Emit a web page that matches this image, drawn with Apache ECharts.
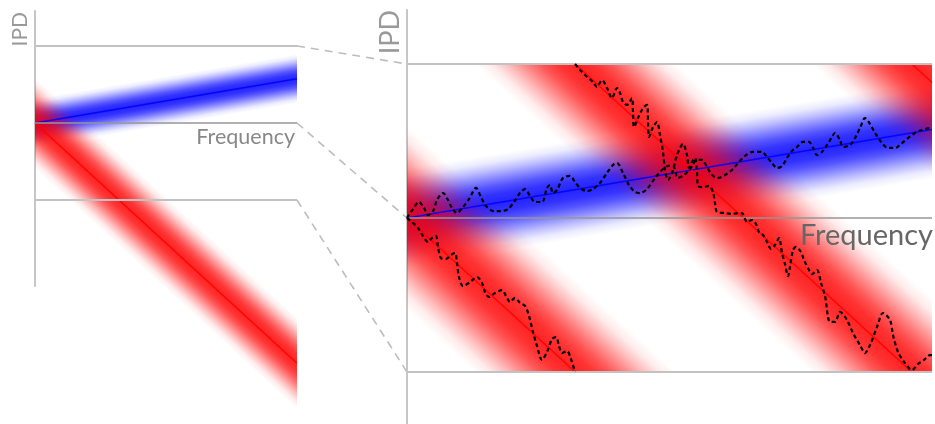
<!DOCTYPE html>
<html><head><meta charset="utf-8">
<script src="https://cdn.jsdelivr.net/npm/echarts@6/dist/echarts.min.js"></script>
<style>html,body{margin:0;padding:0;background:#fff}#c{width:935px;height:424px}</style>
</head><body><div id="c"></div>
<script>
// ---------- DATA (frequency in Hz, IPD in units of π) ----------
const freqRange = [0, 1050];
const ipdLines = [1, 0, -1];
const blueModel = [[0, 0], [1050, 0.575]];
const redModel = [[0, 0], [1050, -3.12]];
const blueHalfWidth = 0.32;
const redHalfWidth = 0.6;
const redWrapOffsets = [0, 2, 4];
const blueEstimate = [[0,0],[12,0.058],[24,0.104],[34,0.065],[42,0.019],[52,0.045],[60,0.117],[72,0.162],[82,0.117],[90,0.065],[100,0.032],[112,0.071],[124,0.123],[138,0.195],[148,0.136],[158,0.078],[174,0.045],[188,0.045],[202,0.058],[214,0.104],[226,0.162],[236,0.188],[246,0.143],[256,0.104],[270,0.104],[280,0.195],[286,0.214],[292,0.162],[300,0.182],[312,0.26],[326,0.273],[336,0.234],[346,0.195],[360,0.175],[372,0.188],[386,0.227],[400,0.292],[412,0.344],[420,0.357],[432,0.292],[444,0.214],[456,0.169],[466,0.162],[480,0.188],[496,0.26],[510,0.312],[522,0.338],[532,0.338],[542,0.26],[554,0.279],[566,0.318],[580,0.377],[590,0.377],[600,0.331],[610,0.279],[622,0.26],[636,0.279],[650,0.312],[662,0.357],[676,0.403],[692,0.429],[710,0.429],[720,0.396],[730,0.357],[740,0.325],[750,0.338],[760,0.39],[770,0.435],[780,0.461],[792,0.494],[804,0.494],[812,0.455],[820,0.409],[830,0.429],[840,0.474],[850,0.526],[856,0.552],[866,0.506],[872,0.461],[886,0.474],[896,0.519],[906,0.584],[916,0.649],[926,0.61],[936,0.552],[950,0.487],[962,0.455],[976,0.455],[990,0.487],[1002,0.519],[1016,0.552],[1030,0.571],[1046,0.584],[1050,0.584]];
const redEstimateA = [[0,0],[10,-0.026],[22,-0.065],[32,-0.117],[42,-0.156],[50,-0.13],[58,-0.117],[62,-0.188],[68,-0.26],[78,-0.266],[88,-0.24],[96,-0.227],[100,-0.292],[104,-0.383],[112,-0.442],[126,-0.416],[140,-0.383],[150,-0.422],[156,-0.481],[164,-0.513],[176,-0.487],[190,-0.468],[198,-0.506],[206,-0.545],[216,-0.519],[226,-0.552],[236,-0.571],[244,-0.636],[252,-0.74],[260,-0.831],[270,-0.922],[280,-0.87],[290,-0.786],[298,-0.773],[304,-0.831],[310,-0.877],[320,-0.864],[328,-0.916],[336,-1.0]];
const redEstimateB = [[336,1.0],[346,0.961],[356,0.929],[372,0.883],[380,0.851],[390,0.896],[400,0.844],[410,0.779],[420,0.844],[426,0.812],[432,0.753],[440,0.734],[450,0.779],[452,0.688],[454,0.591],[462,0.649],[472,0.714],[480,0.734],[482,0.623],[484,0.526],[492,0.591],[500,0.623],[506,0.539],[512,0.429],[516,0.312],[522,0.247],[532,0.312],[540,0.409],[552,0.481],[560,0.409],[564,0.325],[570,0.364],[576,0.39],[580,0.299],[582,0.208],[592,0.201],[604,0.208],[612,0.169],[616,0.097],[620,0.039],[636,0.032],[650,0.026],[662,0.032],[670,0.032],[680,-0.026],[690,-0.013],[698,-0.039],[704,-0.091],[712,-0.11],[720,-0.156],[728,-0.201],[736,-0.175],[744,-0.13],[750,-0.227],[756,-0.299],[762,-0.377],[766,-0.318],[772,-0.208],[778,-0.188],[788,-0.221],[794,-0.273],[802,-0.325],[810,-0.364],[820,-0.338],[828,-0.422],[836,-0.506],[846,-0.675],[856,-0.675],[866,-0.61],[880,-0.662],[892,-0.747],[906,-0.825],[916,-0.877],[926,-0.825],[940,-0.708],[952,-0.617],[966,-0.662],[972,-0.76],[982,-0.87],[996,-0.942],[1010,-0.987],[1022,-0.948],[1034,-0.922],[1046,-0.89],[1050,-0.89]];
const axisTitle = 'IPD';
const freqTitle = 'Frequency';

// ---------- helpers ----------
function clipHalf(pts, keep, yEdge) {
  const out = [];
  for (let i = 0; i < pts.length; i++) {
    const a = pts[i], b = pts[(i + 1) % pts.length];
    const ia = keep(a), ib = keep(b);
    if (ia) out.push(a);
    if (ia !== ib) {
      const t = (yEdge - a[1]) / (b[1] - a[1]);
      out.push([a[0] + t * (b[0] - a[0]), yEdge]);
    }
  }
  return out;
}
function rgba(c, a) { return 'rgba(' + c + ',' + a + ')'; }
function bandStops(c) {
  const prof = [[0,0],[0.08,0.08],[0.16,0.25],[0.25,0.48],[0.33,0.67],[0.41,0.8],[0.5,0.86],[0.59,0.8],[0.67,0.67],[0.75,0.48],[0.84,0.25],[0.92,0.08],[1,0]];
  return prof.map(p => ({offset: p[0], color: rgba(c, p[1])}));
}
function bandRenderer(model, half, c, clip, mode) {
  return function (params, api) {
    const off = api.value(0);
    const p0 = api.coord([model[0][0], model[0][1] + off]);
    const p1 = api.coord([model[1][0], model[1][1] + off]);
    const pt = api.coord([model[0][0], model[0][1] + off + half]);
    const h = p0[1] - pt[1];
    const top = api.coord([model[0][0], ipdLines[0]])[1];
    const bot = api.coord([model[0][0], ipdLines[2]])[1];
    if (mode === 'fill') {
      let poly = [[p0[0], p0[1] - h], [p1[0], p1[1] - h], [p1[0], p1[1] + h], [p0[0], p0[1] + h]];
      if (clip) {
        poly = clipHalf(poly, p => p[1] >= top, top);
        if (poly.length >= 3) poly = clipHalf(poly, p => p[1] <= bot, bot);
        if (poly.length < 3) return null;
      }
      const dx = p1[0] - p0[0], dy = p1[1] - p0[1], L = Math.hypot(dx, dy);
      const nx = -dy / L, ny = dx / L, w = h * dx / L;
      return {
        type: 'polygon', shape: {points: poly},
        style: {fill: {type: 'linear', x: p0[0] - nx * w, y: p0[1] - ny * w, x2: p0[0] + nx * w, y2: p0[1] + ny * w, colorStops: bandStops(c), global: true}}
      };
    } else {
      let t0 = 0, t1 = 1;
      if (clip) {
        const dy = p1[1] - p0[1];
        if (Math.abs(dy) > 1e-6) {
          let ta = (top - p0[1]) / dy, tb = (bot - p0[1]) / dy;
          const lo = Math.min(ta, tb), hi = Math.max(ta, tb);
          t0 = Math.max(0, lo); t1 = Math.min(1, hi);
        }
        if (t1 <= t0) return null;
      }
      return {
        type: 'line',
        shape: {x1: p0[0] + t0 * (p1[0] - p0[0]), y1: p0[1] + t0 * (p1[1] - p0[1]), x2: p0[0] + t1 * (p1[0] - p0[0]), y2: p0[1] + t1 * (p1[1] - p0[1])},
        style: {stroke: rgba(c, 0.9), lineWidth: 1.5}
      };
    }
  };
}
function hLineRenderer(params, api) {
  const v = api.value(0);
  const a = api.coord([freqRange[0], v]), b = api.coord([freqRange[1], v]);
  return {type: 'line', shape: {x1: a[0], y1: a[1], x2: b[0], y2: b[1]}, style: {stroke: v === 0 ? 'rgba(150,150,150,0.75)' : '#c2c2c2', lineWidth: 2}};
}
const RED = '255,0,0', BLUE = '0,0,255';

const chart = echarts.init(document.getElementById('c'), null, {renderer: 'canvas'});
const yAxisBase = {type: 'value', axisLine: {show: true, onZero: false, lineStyle: {color: '#c6c6c6', width: 2}}, axisTick: {show: false}, axisLabel: {show: false}, splitLine: {show: false}};
const dashStyle = {color: '#000', width: 2.2, type: [4, 3]};
const option = {
  animation: false,
  backgroundColor: '#fff',
  grid: [
    {left: 35, top: 11, width: 262, height: 275},
    {left: 407, top: 10, width: 525, height: 414}
  ],
  xAxis: [
    {gridIndex: 0, type: 'value', min: freqRange[0], max: freqRange[1], show: false},
    {gridIndex: 1, type: 'value', min: freqRange[0], max: freqRange[1], show: false}
  ],
  yAxis: [
    Object.assign({gridIndex: 0, min: -163 / 77, max: 112 / 77}, yAxisBase),
    Object.assign({gridIndex: 1, min: -206 / 154, max: 208 / 154}, yAxisBase)
  ],
  series: [
    // left panel
    {type: 'custom', xAxisIndex: 0, yAxisIndex: 0, z: 1, data: [[0]], renderItem: bandRenderer(blueModel, blueHalfWidth, BLUE, false, 'fill')},
    {type: 'custom', xAxisIndex: 0, yAxisIndex: 0, z: 2, data: [[0]], renderItem: bandRenderer(redModel, redHalfWidth, RED, false, 'fill')},
    {type: 'custom', xAxisIndex: 0, yAxisIndex: 0, z: 3, data: [[0]], renderItem: bandRenderer(blueModel, blueHalfWidth, BLUE, false, 'line')},
    {type: 'custom', xAxisIndex: 0, yAxisIndex: 0, z: 3, data: [[0]], renderItem: bandRenderer(redModel, redHalfWidth, RED, false, 'line')},
    {type: 'custom', xAxisIndex: 0, yAxisIndex: 0, z: 4, data: ipdLines.map(v => [v]), renderItem: hLineRenderer},
    // right panel
    {type: 'custom', xAxisIndex: 1, yAxisIndex: 1, z: 1, data: [[0]], renderItem: bandRenderer(blueModel, blueHalfWidth, BLUE, true, 'fill')},
    {type: 'custom', xAxisIndex: 1, yAxisIndex: 1, z: 2, data: redWrapOffsets.map(o => [o]), renderItem: bandRenderer(redModel, redHalfWidth, RED, true, 'fill')},
    {type: 'custom', xAxisIndex: 1, yAxisIndex: 1, z: 3, data: [[0]], renderItem: bandRenderer(blueModel, blueHalfWidth, BLUE, true, 'line')},
    {type: 'custom', xAxisIndex: 1, yAxisIndex: 1, z: 3, data: redWrapOffsets.map(o => [o]), renderItem: bandRenderer(redModel, redHalfWidth, RED, true, 'line')},
    {type: 'custom', xAxisIndex: 1, yAxisIndex: 1, z: 4, data: ipdLines.map(v => [v]), renderItem: hLineRenderer},
    {type: 'line', xAxisIndex: 1, yAxisIndex: 1, z: 5, data: blueEstimate, showSymbol: false, symbol: 'none', smooth: 0.3, lineStyle: dashStyle},
    {type: 'line', xAxisIndex: 1, yAxisIndex: 1, z: 5, data: redEstimateA, showSymbol: false, symbol: 'none', smooth: 0.3, lineStyle: dashStyle},
    {type: 'line', xAxisIndex: 1, yAxisIndex: 1, z: 5, data: redEstimateB, showSymbol: false, symbol: 'none', smooth: 0.3, lineStyle: dashStyle}
  ]
};
chart.setOption(option);

// connectors and titles, positioned through the axes
const gfx = [];
ipdLines.forEach(v => {
  const a = chart.convertToPixel({gridIndex: 0}, [freqRange[1], v]);
  const b = chart.convertToPixel({gridIndex: 1}, [freqRange[0], v]);
  gfx.push({type: 'line', z: 0, shape: {x1: a[0], y1: a[1], x2: b[0], y2: b[1]}, style: {stroke: '#bdbdbd', lineWidth: 1.6, lineDash: [8, 6]}});
});
const lTop = chart.convertToPixel({gridIndex: 0}, [freqRange[0], 112 / 77]);
const rTop = chart.convertToPixel({gridIndex: 1}, [freqRange[0], 208 / 154]);
const lZero = chart.convertToPixel({gridIndex: 0}, [freqRange[1], 0]);
const rZero = chart.convertToPixel({gridIndex: 1}, [freqRange[1], 0]);
const FONT = 'Lato, "Open Sans", sans-serif';
gfx.push({type: 'text', z: 10, x: lTop[0] - 15, y: lTop[1] + 1, rotation: Math.PI / 2, style: {text: axisTitle, font: '21px ' + FONT, fill: '#999', align: 'right', verticalAlign: 'middle'}});
gfx.push({type: 'text', z: 10, x: rTop[0] - 17, y: rTop[1], rotation: Math.PI / 2, style: {text: axisTitle, font: '27px ' + FONT, fill: '#999', align: 'right', verticalAlign: 'middle'}});
gfx.push({type: 'text', z: 10, x: lZero[0] - 2, y: lZero[1] + 14, style: {text: freqTitle, font: '21.5px ' + FONT, fill: '#888', align: 'right', verticalAlign: 'middle'}});
gfx.push({type: 'text', z: 10, x: rZero[0] + 1, y: rZero[1] + 18, style: {text: freqTitle, font: '29px ' + FONT, fill: '#666', align: 'right', verticalAlign: 'middle'}});
chart.setOption({graphic: gfx});
</script>
</body></html>
